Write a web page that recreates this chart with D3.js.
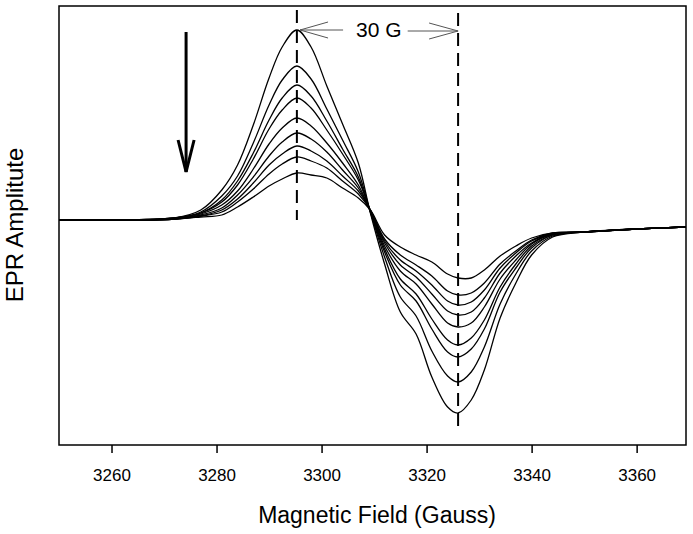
<!DOCTYPE html>
<html>
<head>
<meta charset="utf-8">
<script src="https://cdn.jsdelivr.net/npm/d3@7"></script>
<style>
  body { margin: 0; background: #fff; }
  svg { display: block; font-family: "Liberation Sans", Arial, sans-serif; }
</style>
</head>
<body>
<svg id="chart" width="693" height="534"></svg>
<script>
// magnetic field (Gauss) where the spectra were read
const field = [3250, 3262, 3272, 3277, 3281, 3284, 3287, 3290, 3292.5, 3295.3, 3298, 3301, 3304, 3307, 3309.3,
               3312, 3315, 3318, 3321, 3324, 3326, 3328.5, 3331, 3334, 3337, 3340, 3344, 3350, 3360, 3369.4]

// EPR amplitude (arb. units), largest to smallest spectrum
const spec1 = [0, 0, 2, 10, 30, 55, 95, 142, 173, 190, 173, 134, 96, 57, 7, -44, -92, -114, -157, -187, -193, -180, -150, -98, -63, -35, -17, -12, -9, -7]
const spec2 = [0, 0, 2, 8, 24, 44, 77, 115, 140, 154, 141, 111, 80, 48, 8, -37, -77, -96, -131, -156, -162, -152, -127, -84, -54, -31, -16, -12, -9, -7]
const spec3 = [0, 0, 2, 7, 20, 39, 67, 100, 122, 135, 124, 99, 71, 43, 8, -32, -65, -81, -109, -132, -137, -129, -109, -72, -48, -28, -15, -12, -9, -7]
const spec4 = [0, 0, 2, 7, 18, 35, 61, 91, 110, 122, 112, 90, 66, 40, 9, -29, -59, -74, -99, -120, -125, -118, -100, -67, -44, -26, -15, -12, -9, -7]
const spec5 = [0, 0, 1, 6, 15, 29, 51, 76, 92, 102, 94, 77, 57, 35, 9, -26, -51, -64, -84, -103, -107, -103, -87, -59, -40, -24, -14, -12, -9, -7]
const spec6 = [0, 0, 1, 5, 12, 25, 43, 64, 78, 87, 81, 68, 50, 32, 9, -23, -45, -57, -74, -91, -95, -92, -78, -53, -36, -23, -14, -12, -9, -7]
const spec7 = [0, 0, 1, 4, 10, 21, 37, 55, 66, 74, 69, 59, 44, 29, 10, -21, -40, -51, -65, -81, -85, -82, -70, -48, -33, -21, -14, -12, -9, -7]
const spec8 = [0, 0, 1, 4, 8, 18, 31, 46, 56, 63, 59, 52, 39, 26, 10, -19, -35, -45, -56, -71, -75, -73, -63, -44, -31, -20, -13, -12, -9, -7]
const spec9 = [0, 0, 1, 3, 5, 13, 23, 34, 41, 47, 45, 42, 32, 22, 10, -15, -27, -35, -42, -54, -58, -58, -50, -36, -26, -18, -13, -12, -9, -7]
const spectra = [spec1, spec2, spec3, spec4, spec5, spec6, spec7, spec8, spec9]

const xTicks = [3260, 3280, 3300, 3320, 3340, 3360]

// annotations: dashed markers (field, top amp, bottom amp), 30 G span, decrease arrow
const markers = [[3295.3, 210, 0], [3326, 207, -208]]
const spanLabel = "30 G"
const spanLeft = [[3304.1, 190], [3295.9, 190]]
const spanRight = [[3316.4, 189], [3326, 189]]
const arrowDown = [[3274.2, 188], [3274.2, 48]]

const margin = {top: 6, right: 7, bottom: 89, left: 59}
const svg = d3.select('#chart')
const width = +svg.attr('width') - margin.left - margin.right
const height = +svg.attr('height') - margin.top - margin.bottom

const x = d3.scaleLinear().domain([3250, 3369.4]).range([margin.left, margin.left + width])
const y = d3.scaleLinear().domain([-225, 214]).range([margin.top + height, margin.top])

svg.append('rect').attr('width', 693).attr('height', 534).attr('fill', '#fff')

svg.append('clipPath').attr('id', 'plot')
    .append('rect')
    .attr('x', margin.left).attr('y', margin.top)
    .attr('width', width).attr('height', height)

const line = d3.line()
    .x(d => x(d[0]))
    .y(d => y(d[1]))
    .curve(d3.curveCatmullRom.alpha(0.5))

const g = svg.append('g').attr('clip-path', 'url(#plot)')

g.selectAll('.spec')
    .data(spectra)
    .join('path')
    .attr('class', 'spec')
    .attr('fill', 'none')
    .attr('stroke', '#000')
    .attr('stroke-width', 1.3)
    .attr('d', s => line(s.map((v, i) => [field[i], v])))

// dashed markers at peak and trough
svg.selectAll('.marker')
    .data(markers)
    .join('line')
    .attr('class', 'marker')
    .attr('x1', d => x(d[0])).attr('x2', d => x(d[0]))
    .attr('y1', d => y(d[1])).attr('y2', d => y(d[2]))
    .attr('stroke', '#000')
    .attr('stroke-width', 2)
    .attr('stroke-dasharray', '13,7')

// 30 G span arrows (open heads, grey)
function openArrow(pts, color, w, headLen, headHalf) {
    const x1 = x(pts[0][0]), y1 = y(pts[0][1])
    const x2 = x(pts[1][0]), y2 = y(pts[1][1])
    const ang = Math.atan2(y2 - y1, x2 - x1)
    const head = [-1, 1].map(s => [
        x2 - headLen * Math.cos(ang) - s * headHalf * Math.sin(ang),
        y2 - headLen * Math.sin(ang) + s * headHalf * Math.cos(ang)
    ])
    const a = svg.append('g').attr('stroke', color).attr('stroke-width', w).attr('fill', 'none')
    a.append('line').attr('x1', x1).attr('y1', y1).attr('x2', x2).attr('y2', y2)
    a.append('path').attr('d', `M${head[0][0]},${head[0][1]}L${x2},${y2}L${head[1][0]},${head[1][1]}`)
}

openArrow(spanLeft, '#555', 1, 28, 8)
openArrow(spanRight, '#555', 1, 29, 8)
openArrow(arrowDown, '#000', 3, 32, 8)

svg.append('text')
    .attr('x', x(3310.9))
    .attr('y', y(190) + 7)
    .attr('text-anchor', 'middle')
    .attr('font-size', 21)
    .text(spanLabel)

// frame
svg.append('rect')
    .attr('x', margin.left).attr('y', margin.top)
    .attr('width', width).attr('height', height)
    .attr('fill', 'none')
    .attr('stroke', '#000')
    .attr('stroke-width', 1.5)

const xAxis = svg.append('g')
    .attr('transform', `translate(0,${margin.top + height})`)
    .call(d3.axisBottom(x).tickValues(xTicks).tickFormat(d3.format('d')).tickSize(8).tickPadding(16))
xAxis.select('.domain').remove()
xAxis.selectAll('line').attr('stroke', '#000').attr('stroke-width', 1.5)
xAxis.selectAll('text').attr('font-size', 17).attr('font-family', '"Liberation Sans", Arial, sans-serif').attr('fill', '#000')

svg.append('text')
    .attr('x', 377)
    .attr('y', 523)
    .attr('text-anchor', 'middle')
    .attr('font-size', 23)
    .text('Magnetic Field (Gauss)')

svg.append('text')
    .attr('transform', 'translate(23,225) rotate(-90)')
    .attr('text-anchor', 'middle')
    .attr('font-size', 24)
    .text('EPR Amplitute')
</script>
</body>
</html>
